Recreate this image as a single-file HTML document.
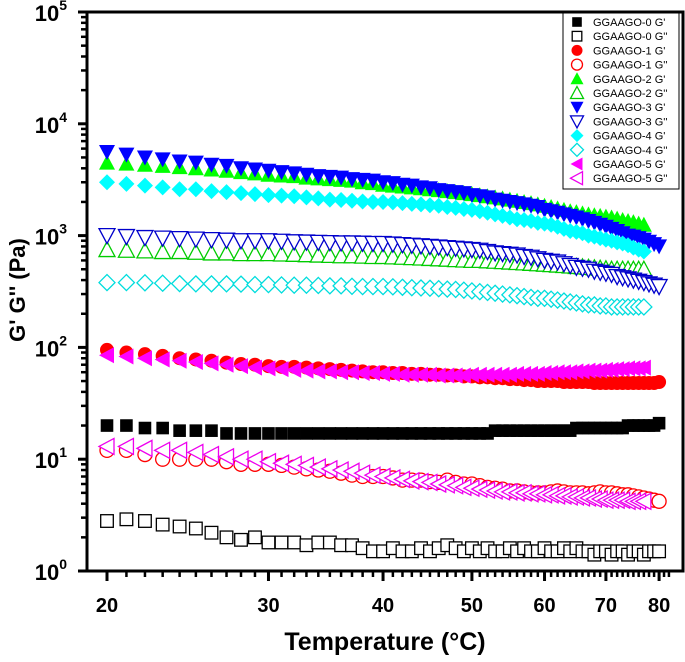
<!DOCTYPE html>
<html><head><meta charset="utf-8"><style>
html,body{margin:0;padding:0;background:#fff;}
svg{display:block;font-family:"Liberation Sans",Arial,sans-serif;}
</style></head><body>
<svg id="chart" width="685" height="662" xmlns="http://www.w3.org/2000/svg"></svg>
<script>
const temps=[20,21,22,23,24,25,26,27,28,29,30,31,32,33,34,35,36,37,38,39,40,41,42,43,44,45,46,47,48,49,50,51,52,53,54,55,56,57,58,59,60,61,62,63,64,65,66,67,68,69,70,71,72,73,74,75,76,77,78,79,80];
const s0G1=[20,20,19,19,18,18,18,17,17,17,17,17,17,17,17,17,17,17,17,17,17,17,17,17,17,17,17,17,17,17,17,17,17,18,18,18,18,18,18,18,18,18,18,18,18,19,19,19,19,19,19,19,19,19,20,20,20,20,20,20,21];
const s0G2=[2.8,2.9,2.8,2.6,2.5,2.4,2.2,2.0,1.9,2.0,1.8,1.8,1.8,1.7,1.8,1.8,1.7,1.7,1.6,1.5,1.5,1.6,1.5,1.5,1.6,1.5,1.6,1.7,1.6,1.5,1.6,1.5,1.6,1.5,1.5,1.6,1.5,1.6,1.5,1.5,1.6,1.5,1.5,1.6,1.5,1.6,1.5,1.5,1.4,1.5,1.5,1.4,1.5,1.5,1.4,1.5,1.5,1.4,1.5,1.5,1.5];
const s1G1=[95,90,87,84,80,78,76,73,71,70,68,67,67,66,65,64,63,62,61,60,60,59,59,58,58,57,57,56,56,55,55,54,54,53,53,52,52,51,51,50,50,50,50,49,49,49,49,49,48,48,48,48,48,48,48,48,48,48,48,48,49];
const s1G2=[12,12,11,10,10,10,10,9.5,9,9,9,8.8,8.5,8.2,8,7.8,7.5,7.2,7,7,7,6.8,6.5,6.5,6.5,6.3,6.2,6.5,6.2,6,6,5.8,5.6,5.5,5.4,5.2,5.2,5.1,5,5,5,5.1,5.2,5.1,5,5,5,4.9,5,5.1,5,5,4.9,4.8,4.8,4.7,4.6,4.5,4.4,4.3,4.2];
const s2G1=[4500,4400,4300,4200,4100,4000,3900,3800,3700,3600,3500,3450,3400,3300,3250,3200,3150,3100,3000,2950,2850,2800,2750,2700,2650,2600,2550,2500,2450,2400,2350,2300,2250,2200,2150,2100,2050,2000,1950,1900,1850,1800,1750,1700,1650,1620,1580,1550,1520,1500,1480,1450,1420,1380,1350,1320,1280,1250,null,null,null];
const s2G2=[750,740,730,720,720,710,700,700,690,690,690,685,680,675,670,665,660,660,655,650,650,645,640,635,630,625,620,615,610,605,600,600,595,590,585,580,575,570,565,560,555,550,545,540,535,530,525,520,515,510,505,500,500,500,500,500,500,500,null,null,null];
const s3G1=[5600,5300,5000,4800,4600,4500,4300,4200,4000,3900,3800,3700,3600,3500,3400,3350,3300,3200,3150,3100,3000,2950,2850,2800,2700,2650,2550,2500,2450,2400,2300,2250,2200,2100,2050,2000,1950,1900,1850,1800,1700,1650,1600,1550,1500,1450,1400,1350,1300,1250,1200,1150,1100,1050,1000,980,950,920,880,840,800];
const s3G2=[1000,980,960,950,940,930,920,910,900,900,900,890,880,875,870,865,860,860,855,850,850,840,830,820,810,800,790,780,770,760,750,740,720,700,690,680,670,650,640,620,600,590,580,560,540,520,510,500,480,470,460,450,430,420,410,400,390,380,370,360,350];
const s4G1=[3000,2900,2800,2700,2600,2600,2500,2450,2400,2350,2300,2280,2250,2200,2150,2100,2080,2050,2020,2000,2000,1980,1950,1920,1900,1870,1850,1800,1770,1730,1700,1650,1600,1550,1500,1450,1400,1380,1350,1300,1280,1250,1200,1150,1100,1080,1050,1000,980,950,920,900,870,850,820,780,750,720,null,null,null];
const s4G2=[380,380,378,375,372,370,370,370,368,365,365,362,360,360,358,355,355,352,350,350,350,348,345,342,340,338,335,332,330,325,320,315,310,305,300,295,290,285,280,275,275,270,265,260,255,250,245,240,240,235,235,230,230,230,230,230,230,230,null,null,null];
const s5G1=[85,83,80,78,76,74,72,70,68,66,65,64,63,62,61,61,60,60,59,59,58,58,57,57,57,57,56,56,56,56,57,57,57,57,57,57,58,58,58,58,59,59,60,60,60,61,61,62,62,62,63,63,64,64,65,65,65,66,null,null,null];
const s5G2=[13,13,12.5,12,12,11.5,11,10.5,10,10,9.5,9.2,9,8.8,8.5,8.2,8,7.8,7.5,7.2,7,6.8,6.6,6.4,6.3,6.2,6,5.9,5.8,5.6,5.5,5.4,5.3,5.2,5.1,5.1,5,5,4.9,4.9,4.8,4.8,4.7,4.7,4.6,4.6,4.5,4.5,4.4,4.4,4.3,4.3,4.3,4.3,4.2,4.2,4.2,4.2,null,null,null];
const xTicks=[20,30,40,50,60,70,80];
const yTickExp=[0,1,2,3,4,5];
const seriesNames=["GGAAGO-0 G'","GGAAGO-0 G''","GGAAGO-1 G'","GGAAGO-1 G''","GGAAGO-2 G'","GGAAGO-2 G''","GGAAGO-3 G'","GGAAGO-3 G''","GGAAGO-4 G'","GGAAGO-4 G''","GGAAGO-5 G'","GGAAGO-5 G''"];
const seriesData=[s0G1,s0G2,s1G1,s1G2,s2G1,s2G2,s3G1,s3G2,s4G1,s4G2,s5G1,s5G2];

const NS="http://www.w3.org/2000/svg";
const svg=document.getElementById('chart');
const X0=87,X1=683,Y0=571,Y1=12;
const xPos=t=>107+(Math.log10(t)-Math.log10(20))*917;
const yPos=v=>Y0-Math.log10(v)*111.8;
function mk(tag,attrs,parent){const e=document.createElementNS(NS,tag);for(const k in attrs)e.setAttribute(k,attrs[k]);(parent||svg).appendChild(e);return e;}

const styles=[
 {shape:'sq',color:'#000',fill:true},{shape:'sq',color:'#000',fill:false},
 {shape:'ci',color:'#f00',fill:true},{shape:'ci',color:'#f00',fill:false},
 {shape:'up',color:'#0f0',fill:true},{shape:'up',color:'#0c0',fill:false},
 {shape:'dn',color:'#00f',fill:true},{shape:'dn',color:'#00c',fill:false},
 {shape:'di',color:'#0ff',fill:true},{shape:'di',color:'#0dd',fill:false},
 {shape:'lt',color:'#f0f',fill:true},{shape:'lt',color:'#e0e',fill:false}];
function marker(g,st,x,y,s){
 const f=st.fill?st.color:'#fff',a={fill:f,stroke:st.color,'stroke-width':st.fill?0:1.3};
 const h=s/2;let e;
 if(st.shape==='sq')e=mk('rect',Object.assign({x:x-h+0.7,y:y-h+0.7,width:s-1.4,height:s-1.4},a),g);
 else if(st.shape==='ci')e=mk('circle',Object.assign({cx:x,cy:y,r:h},a),g);
 else{let p;
  if(st.shape==='up')p=[[x,y-h-1],[x+h+1,y+h],[x-h-1,y+h]];
  else if(st.shape==='dn')p=[[x,y+h+1],[x+h+1,y-h],[x-h-1,y-h]];
  else if(st.shape==='di')p=[[x,y-h-1],[x+h+1,y],[x,y+h+1],[x-h-1,y]];
  else p=[[x-h-1,y],[x+h,y-h-1],[x+h,y+h+1]];
  e=mk('polygon',Object.assign({points:p.map(q=>q.join(',')).join(' ')},a),g);}
 return e;}

seriesData.forEach((arr,i)=>{
 const g=mk('g',{});
 
 
 arr.forEach((v,j)=>{if(v==null)return;
  const m=marker(g,styles[i],xPos(temps[j]),yPos(v),14);
  
  });
});

const fr=mk('rect',{x:X0,y:Y1,width:X1-X0,height:Y0-Y1,fill:'none',stroke:'#000','stroke-width':3});



const yax=mk('g',{});


yTickExp.forEach(e=>{
 const y=yPos(Math.pow(10,e));
 mk('line',{x1:X0-9,x2:X0,y1:y,y2:y,stroke:'#000','stroke-width':3},yax);
 const t=mk('text',{x:X0-20,y:y+9,'text-anchor':'end','font-size':22,'font-weight':'bold'},yax);
 t.textContent='10';
 const sp=mk('tspan',{dy:-11,'font-size':14},t);sp.textContent=e;
 
 
 if(e<5)for(let k=2;k<10;k++){const yy=yPos(k*Math.pow(10,e));mk('line',{x1:X0-6,x2:X0,y1:yy,y2:yy,stroke:'#000','stroke-width':2.5},yax);}
});
const xax=mk('g',{});


for(let t=20;t<=82;t++){const x=xPos(t);const major=xTicks.includes(t);
 mk('line',{x1:x,x2:x,y1:Y0,y2:Y0+(major?10:6),stroke:'#000','stroke-width':major?3:2.5},xax);}
xTicks.forEach(t=>{const tx=mk('text',{x:xPos(t),y:612,'text-anchor':'middle','font-size':20,'font-weight':'bold'},xax);tx.textContent=t;
 
 });
const xt=mk('text',{x:385,y:650,'text-anchor':'middle','font-size':25,'font-weight':'bold'});
xt.textContent='Temperature (°C)';


const yt=mk('text',{x:0,y:0,'text-anchor':'middle','font-size':22,'font-weight':'bold',transform:'translate(25,290) rotate(-90)'});
yt.textContent="G' G'' (Pa)";



const lg=mk('g',{});


mk('rect',{x:563,y:13,width:116,height:176,fill:'#fff',stroke:'#000','stroke-width':1},lg);
seriesNames.forEach((n,i)=>{const y=22+i*14.2;
 const eg=mk('g',{},lg);
 
 
 marker(eg,styles[i],577,y,11);
 const t=mk('text',{x:593,y:y+4,'font-size':11},eg);t.textContent=n;});
</script>
</body></html>
